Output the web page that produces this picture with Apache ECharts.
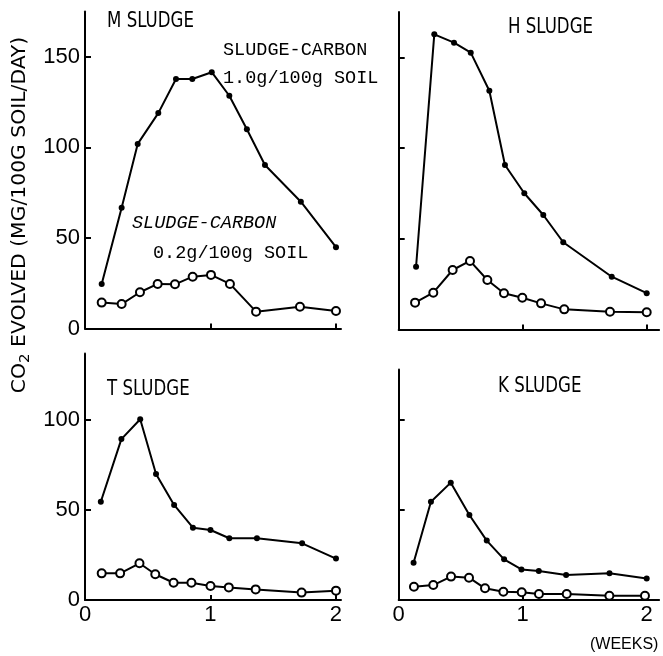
<!DOCTYPE html>
<html><head><meta charset="utf-8">
<script src="https://cdn.jsdelivr.net/npm/echarts@6/dist/echarts.min.js"></script>
<style>html,body{margin:0;padding:0;background:#fff}#c{width:663px;height:656px}</style>
</head><body><div id="c"></div>
<script>
// ---- data (x in weeks, y in mg CO2 /100g soil/day) ----
const panelTitles = ['M SLUDGE', 'H SLUDGE', 'T SLUDGE', 'K SLUDGE'];
const xTicks = [0, 1, 2];
const yTicks = [0, 50, 100, 150];

const mHighX = [0.133, 0.292, 0.42, 0.584, 0.725, 0.855, 1.01, 1.15, 1.29, 1.434, 1.72, 2.0];
const mHighY = [24.6, 66.7, 101.9, 118.9, 137.7, 137.7, 141.5, 128.5, 110, 90.3, 70, 44.9];
const mLowX  = [0.133, 0.292, 0.438, 0.579, 0.717, 0.858, 1.004, 1.155, 1.363, 1.713, 2.0];
const mLowY  = [14.3, 13.5, 20, 24.6, 24.4, 28.6, 29.6, 24.6, 9.3, 12, 9.7];

const hHighX = [0.14, 0.287, 0.446, 0.581, 0.731, 0.857, 1.013, 1.166, 1.327, 1.718, 2.0];
const hHighY = [34.6, 162.7, 158.1, 152.6, 131.6, 90.7, 75.1, 63.1, 48.1, 29.1, 20];
const hLowX  = [0.132, 0.279, 0.435, 0.575, 0.715, 0.849, 0.997, 1.148, 1.335, 1.704, 2.0];
const hLowY  = [14.8, 20.3, 32.8, 37.8, 27.3, 20, 17.5, 14.4, 11.1, 9.8, 9.5];

const tHighX = [0.126, 0.29, 0.44, 0.566, 0.71, 0.86, 1.0, 1.15, 1.37, 1.73, 2.0];
const tHighY = [54.6, 89.4, 100.4, 70, 52.8, 40.2, 38.9, 34.3, 34.3, 31.5, 23];
const tLowX  = [0.133, 0.28, 0.434, 0.56, 0.706, 0.848, 1.0, 1.146, 1.36, 1.726, 2.0];
const tLowY  = [14.8, 14.8, 20.4, 14.3, 9.6, 9.6, 7.8, 7, 5.9, 4.1, 5.2];

const kHighX = [0.12, 0.26, 0.42, 0.57, 0.71, 0.85, 0.99, 1.13, 1.35, 1.7, 2.0];
const kHighY = [20.7, 54.6, 65.2, 47.2, 33, 22.6, 17, 16.1, 13.9, 14.8, 12];
const kLowX  = [0.123, 0.279, 0.422, 0.567, 0.696, 0.844, 0.992, 1.131, 1.355, 1.699, 1.986];
const kLowY  = [7.4, 8.3, 13, 12.4, 6.5, 4.6, 4.3, 3.3, 3.3, 2.4, 2.4];

const yAxisTitle = 'CO2 EVOLVED (MG/100G SOIL/DAY)';
const xAxisTitle = '(WEEKS)';
const noteHigh = ['SLUDGE-CARBON', '1.0g/100g SOIL'];
const noteLow = ['SLUDGE-CARBON', '0.2g/100g SOIL'];

// ---- layout ----
const SANS = '"Liberation Sans", sans-serif';
const COND = '"DejaVu Sans Condensed", "Liberation Sans Narrow", "Liberation Sans", sans-serif';
const MONO = '"Liberation Mono", "DejaVu Sans Mono", monospace';
const grids = [
  {left: 85, top: 11.5, width: 256, height: 317},
  {left: 398.7, top: 12, width: 260.4, height: 317.5},
  {left: 85, top: 353.4, width: 256, height: 246.6},
  {left: 398.7, top: 369.6, width: 260.4, height: 230.4}
];
const xMax = [2.04, 2.1, 2.04, 2.1];
const yMax = [175, 175, 137, 128];
const showX = [false, false, true, true];
const showY = [true, false, true, false];

const zip = (xs, ys) => xs.map((x, i) => [x, ys[i]]);
const pairs = [
  [zip(mHighX, mHighY), zip(mLowX, mLowY)],
  [zip(hHighX, hHighY), zip(hLowX, hLowY)],
  [zip(tHighX, tHighY), zip(tLowX, tLowY)],
  [zip(kHighX, kHighY), zip(kLowX, kLowY)]
];

const xAxes = grids.map((g, i) => ({
  type: 'value', gridIndex: i, min: 0, max: xMax[i],
  splitLine: {show: false},
  axisLine: {show: true, onZero: false, lineStyle: {color: '#000', width: 2}},
  axisTick: {show: true, inside: true, length: 5, lineStyle: {color: '#000', width: 2}, customValues: showX[i] ? [0,1,2] : [1,2]},
  axisLabel: {show: showX[i], customValues: xTicks, margin: 4, color: '#000', fontSize: 22, fontFamily: SANS}
}));
const yAxes = grids.map((g, i) => ({
  type: 'value', gridIndex: i, min: 0, max: yMax[i],
  splitLine: {show: false},
  axisLine: {show: true, onZero: false, lineStyle: {color: '#000', width: 2}},
  axisTick: {show: true, inside: true, length: 6, lineStyle: {color: '#000', width: 2}, customValues: yTicks.filter(v => v > 0 && v < yMax[i])},
  axisLabel: {show: showY[i], customValues: yTicks.filter(v => v < yMax[i]), margin: 5, color: '#000', fontSize: 22, fontFamily: SANS}
}));

const series = [];
pairs.forEach((p, i) => {
  series.push({
    type: 'line', xAxisIndex: i, yAxisIndex: i, data: p[0],
    symbol: 'circle', symbolSize: 6,
    lineStyle: {color: '#000', width: 2},
    itemStyle: {color: '#000'}
  });
  series.push({
    type: 'line', xAxisIndex: i, yAxisIndex: i, data: p[1],
    symbol: 'circle', symbolSize: 8,
    lineStyle: {color: '#000', width: 2},
    itemStyle: {color: '#fff', borderColor: '#000', borderWidth: 2}
  });
});

const titlePos = [[107, 22], [508, 28], [107, 390], [498, 387]];
const txt = (x, y, text, size, family, extra, sx) => ({
  type: 'text', x: x, y: y, scaleX: sx || 1,
  style: Object.assign({text: text, fill: '#000', fontSize: size, fontFamily: family, align: 'left', verticalAlign: 'middle'}, extra || {})
});
const graphics = panelTitles.map((t, i) => txt(titlePos[i][0], titlePos[i][1], t, 21, COND, null, 0.88));
graphics.push(txt(223, 50, noteHigh[0], 18.5, MONO));
graphics.push(txt(223, 78, noteHigh[1], 18.5, MONO));
graphics.push(txt(132, 223, noteLow[0], 18.5, MONO, {fontStyle: 'italic'}));
graphics.push(txt(153, 253, noteLow[1], 18.5, MONO));
graphics.push(txt(590, 645, xAxisTitle, 16, SANS));
graphics.push({
  type: 'text', x: 20, y: 215, rotation: Math.PI / 2, scaleX: 1.19,
  style: {
    text: '{n|' + yAxisTitle.slice(0, 2) + '}{s|' + yAxisTitle.slice(2, 3) + '}{n|' + yAxisTitle.slice(3) + '}',
    align: 'center', verticalAlign: 'middle', fill: '#000',
    rich: {
      n: {fontSize: 19, fontFamily: COND, color: '#000', lineHeight: 24},
      s: {fontSize: 14, fontFamily: COND, color: '#000', lineHeight: 24, padding: [10, 0, 0, 0]}
    }
  }
});

const chart = echarts.init(document.getElementById('c'), null, {renderer: 'canvas'});
chart.setOption({
  animation: false,
  backgroundColor: '#fff',
  grid: grids,
  xAxis: xAxes,
  yAxis: yAxes,
  series: series,
  graphic: graphics
});
</script></body></html>
